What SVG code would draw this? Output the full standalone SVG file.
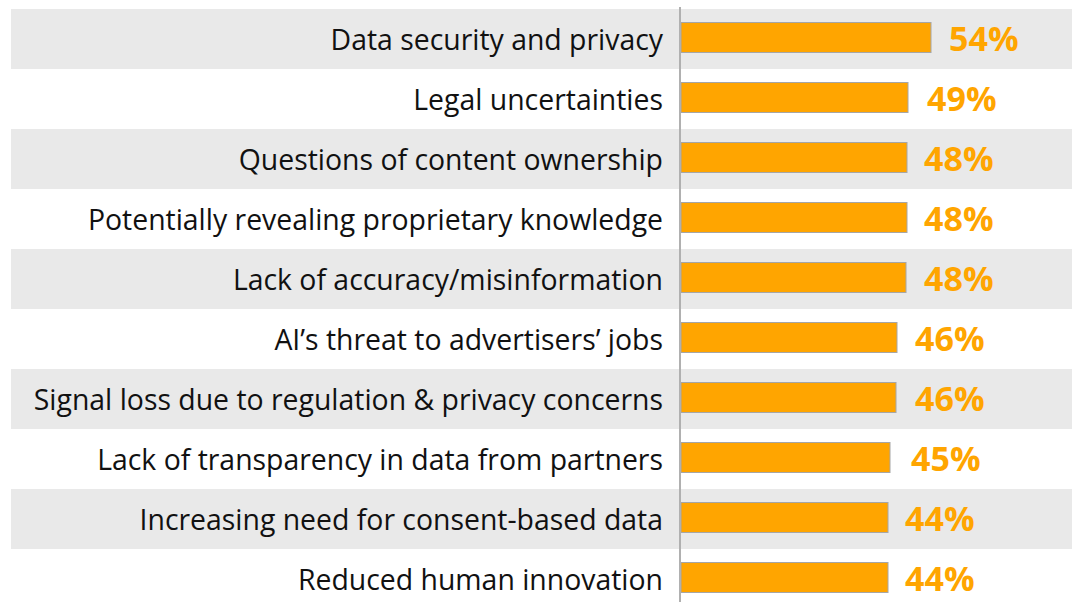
<svg xmlns="http://www.w3.org/2000/svg" width="1072" height="602" viewBox="0 0 1072 602">
<style>
.band{fill:#e9e9e9}
.bar{fill:#ffa500;stroke:#a6a6a6;stroke-width:1}
.lbl{font-family:"Open Sans","Liberation Sans",sans-serif;font-size:28.4px;fill:#111;text-anchor:end}
.pct{font-family:"Open Sans","Liberation Sans",sans-serif;font-size:34px;font-weight:bold;fill:#ffa500}
.axis{stroke:#b0b0b0;stroke-width:2}
</style>
<rect width="1072" height="602" fill="#fff"/>
<g id="bands">
<rect class="band" x="11" y="9" width="1061" height="60"/>
<rect class="band" x="11" y="129" width="1061" height="60"/>
<rect class="band" x="11" y="249" width="1061" height="60"/>
<rect class="band" x="11" y="369" width="1061" height="60"/>
<rect class="band" x="11" y="489" width="1061" height="60"/>
</g>
<g id="row1"><text class="lbl" x="663" y="50">Data security and privacy</text><rect class="bar" x="681" y="22.5" width="250" height="30"/><text class="pct" x="949" y="51">54%</text></g>
<g id="row2"><text class="lbl" x="663" y="110">Legal uncertainties</text><rect class="bar" x="681" y="82.5" width="227" height="30"/><text class="pct" x="927" y="111">49%</text></g>
<g id="row3"><text class="lbl" x="663" y="170">Questions of content ownership</text><rect class="bar" x="681" y="142.5" width="226" height="30"/><text class="pct" x="924" y="171">48%</text></g>
<g id="row4"><text class="lbl" x="663" y="230">Potentially revealing proprietary knowledge</text><rect class="bar" x="681" y="202.5" width="226" height="30"/><text class="pct" x="924" y="231">48%</text></g>
<g id="row5"><text class="lbl" x="663" y="290">Lack of accuracy/misinformation</text><rect class="bar" x="681" y="262.5" width="225" height="30"/><text class="pct" x="924" y="291">48%</text></g>
<g id="row6"><text class="lbl" x="663" y="350">AI’s threat to advertisers’ jobs</text><rect class="bar" x="681" y="322.5" width="216" height="30"/><text class="pct" x="915" y="351">46%</text></g>
<g id="row7"><text class="lbl" x="663" y="410">Signal loss due to regulation &amp; privacy concerns</text><rect class="bar" x="681" y="382.5" width="215" height="30"/><text class="pct" x="915" y="411">46%</text></g>
<g id="row8"><text class="lbl" x="663" y="470">Lack of transparency in data from partners</text><rect class="bar" x="681" y="442.5" width="209" height="30"/><text class="pct" x="911" y="471">45%</text></g>
<g id="row9"><text class="lbl" x="663" y="530">Increasing need for consent-based data</text><rect class="bar" x="681" y="502.5" width="207" height="30"/><text class="pct" x="905" y="531">44%</text></g>
<g id="row10"><text class="lbl" x="663" y="590">Reduced human innovation</text><rect class="bar" x="681" y="562.5" width="207" height="30"/><text class="pct" x="905" y="591">44%</text></g>
<g id="connectors"><line class="axis" x1="680" y1="7" x2="680" y2="602"/></g>
</svg>
